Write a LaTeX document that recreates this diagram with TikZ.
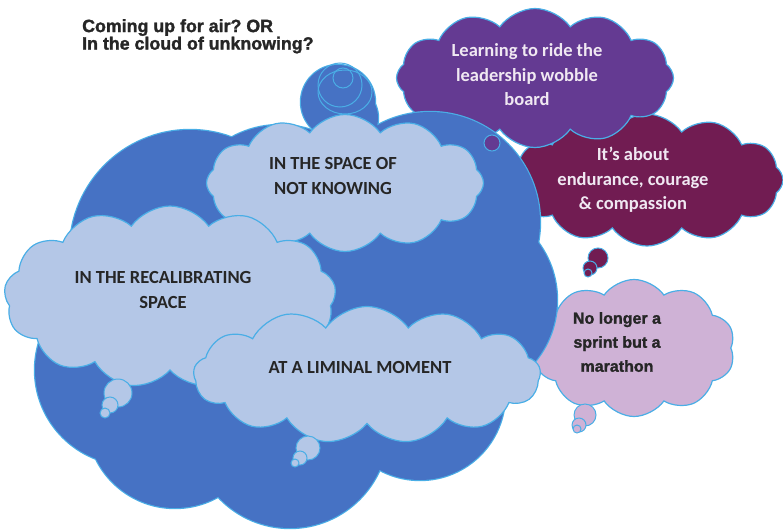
\documentclass[tikz,border=0pt]{standalone}
\usepackage{fontspec}
\setmainfont{Carlito}
\newfontfamily\arialfont[BoldFeatures={FakeBold=1.6}]{Liberation Sans}
\usetikzlibrary{shapes.symbols}

\definecolor{deepblue}{HTML}{4672C4}
\definecolor{paleblue}{HTML}{B4C7E7}
\definecolor{edgeblue}{HTML}{4AAEE6}
\definecolor{wobble}{HTML}{643A92}
\definecolor{maroon}{HTML}{711C52}
\definecolor{lilac}{HTML}{CFB2D6}
\definecolor{ink}{HTML}{262626}
\definecolor{paleink}{HTML}{F0E8F2}

\tikzset{
  thought/.style={cloud, cloud puffs=12, cloud puff arc=110, cloud ignores aspect,
    draw=edgeblue, line width=1.2pt, inner sep=0pt},
  note/.style={align=center, inner sep=0pt, font=\bfseries\fontsize{18.5}{24.5}\selectfont},
  bubble/.style={draw=edgeblue, line width=1pt},
}

\begin{document}
\begin{tikzpicture}[x=1pt, y=-1pt]
\useasboundingbox (0,0) rectangle (783,530);

% clouds sitting behind the big one
\node [thought, fill=lilac, minimum width=202, minimum height=137, cloud puffs=10] (sprintcloud) at (634, 348) {};
\node [thought, fill=maroon, minimum width=272, minimum height=132] (couragecloud) at (647, 180) {};
\node [thought, fill=wobble, minimum width=277, minimum height=139] (wobblecloud) at (535, 78) {};

% the big dark cloud: outline first, then the fill over it
\foreach \x/\y/\r in {190/250/120, 280/225/100, 430/222/110, 460/300/97, 420/395/85,
    290/430/98, 175/420/88, 130/370/95, 338/102/37, 345/118/33, 300/330/120}
  \draw [edgeblue, line width=2.4pt] (\x,\y) circle (\r pt);
\foreach \x/\y/\r in {190/250/120, 280/225/100, 430/222/110, 460/300/97, 420/395/85,
    290/430/98, 175/420/88, 130/370/95, 338/102/37, 345/118/33, 300/330/120}
  \fill [deepblue] (\x,\y) circle (\r pt);
\draw [bubble] (345,92) ellipse (27pt and 22pt);
\draw [bubble] (340,85) circle (22pt);
\draw [bubble] (343,78) circle (10pt);

% little tails
\filldraw [bubble, fill=wobble] (492,143) circle (8pt);
\filldraw [bubble, fill=maroon] (598,258) circle (10pt);
\filldraw [bubble, fill=maroon] (590,268) circle (7pt);
\filldraw [bubble, fill=maroon] (588,273) circle (4pt);
\filldraw [bubble, fill=lilac] (585,415) circle (11pt);
\filldraw [bubble, fill=lilac] (579,425) circle (7pt);
\filldraw [bubble, fill=lilac] (577,429) circle (4pt);

% pale clouds on top
\node [thought, fill=paleblue, minimum width=277, minimum height=137] (knowingcloud) at (345, 183) {};
\node [thought, fill=paleblue, minimum width=332, minimum height=182, cloud puffs=13] (recalcloud) at (170, 297) {};
\filldraw [bubble, fill=paleblue] (118,393) circle (14pt);
\filldraw [bubble, fill=paleblue] (110,405) circle (8pt);
\filldraw [bubble, fill=paleblue] (105,413) circle (5pt);
\node [thought, fill=paleblue, minimum width=347, minimum height=137, cloud puffs=13] (liminalcloud) at (367, 375) {};
\filldraw [bubble, fill=paleblue] (308,448) circle (12pt);
\filldraw [bubble, fill=paleblue] (300,458) circle (7pt);
\filldraw [bubble, fill=paleblue] (295,463) circle (4pt);

% texts
\node [note, text=ink] (knowing) at (333, 176) {IN THE SPACE OF\\NOT KNOWING};
\node [note, text=ink] (recal) at (163, 290) {IN THE RECALIBRATING\\SPACE};
\node [note, text=ink] (liminal) at (360, 367) {AT A LIMINAL MOMENT};
\node [note, text=paleink] (wobble) at (527, 75) {Learning to ride the\\leadership wobble\\board};
\node [note, text=paleink] (courage) at (633, 180) {It’s about\\endurance, courage\\\& compassion};
\node [note, text=ink, font=\arialfont\bfseries\fontsize{16}{24}\selectfont] (sprint) at (617, 342) {No longer a\\sprint but a\\marathon};
\node [align=left, inner sep=0pt, anchor=north west, text=ink,
  font=\arialfont\bfseries\fontsize{17.8}{17.5}\selectfont] (question) at (82, 19)
  {Coming up for air?\ OR\\In the cloud of unknowing?};
\end{tikzpicture}
\end{document}
